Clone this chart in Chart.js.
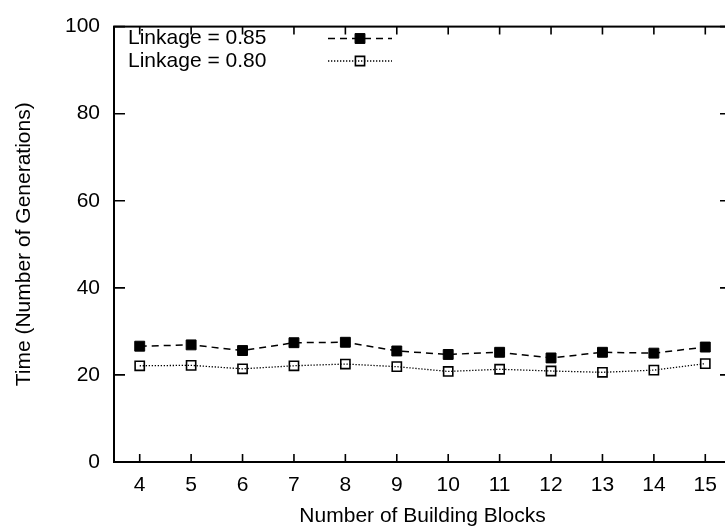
<!DOCTYPE html>
<html lang="en">
<head>
    <meta charset="UTF-8">
    <title>Time vs number of building blocks</title>
    <script src="https://cdn.jsdelivr.net/npm/chart.js"></script>
    <style>
        html, body {
            margin: 0;
            padding: 0;
            background: #fff;
            overflow: hidden;
        }
        .chart-box {
            width: 740px;
            height: 531px;
        }
    </style>
</head>
<body>
    <div class="chart-box">
        <canvas id="genChart" width="740" height="531"></canvas>
    </div>

    <script>
        // Number of building blocks
        const blocks = ['4', '5', '6', '7', '8', '9', '10', '11', '12', '13', '14', '15'];
        // Generations needed, linkage 0.85
        const link085 = [26.6, 26.9, 25.6, 27.4, 27.5, 25.5, 24.7, 25.2, 23.9, 25.2, 25.0, 26.4];
        // Generations needed, linkage 0.80
        const link080 = [22.1, 22.2, 21.4, 22.1, 22.5, 21.9, 20.8, 21.3, 20.9, 20.6, 21.1, 22.6];
        const yTicks = [0, 20, 40, 60, 80, 100];

        const FONT = 'Liberation Sans, Arial, Helvetica, sans-serif';
        const FSIZE = 21;

        // frame with inward ticks on all four sides, plus the key in the top left corner
        const gnuFrame = {
            id: 'gnuFrame',
            afterDatasetsDraw(chart) {
                const ctx = chart.ctx;
                const a = chart.chartArea;
                const xs = chart.scales.x, ys = chart.scales.y;
                ctx.save();
                ctx.strokeStyle = '#000';
                ctx.lineWidth = 1.6;
                ctx.setLineDash([]);
                ctx.beginPath();
                blocks.forEach((b, i) => {
                    const px = xs.getPixelForValue(i);
                    ctx.moveTo(px, a.bottom); ctx.lineTo(px, a.bottom - 8);
                    ctx.moveTo(px, a.top); ctx.lineTo(px, a.top + 8);
                });
                yTicks.forEach(v => {
                    const py = ys.getPixelForValue(v);
                    ctx.moveTo(a.left, py); ctx.lineTo(a.left + 11, py);
                    ctx.moveTo(a.right, py); ctx.lineTo(a.right - 11, py);
                });
                ctx.stroke();
                ctx.lineWidth = 2;
                ctx.strokeRect(a.left, a.top, a.right - a.left, a.bottom - a.top);

                // key
                ctx.font = FSIZE + 'px ' + FONT;
                ctx.textBaseline = 'middle';
                ctx.textAlign = 'left';
                const rows = [38.5, 61];
                chart.data.datasets.forEach((ds, i) => {
                    const y = rows[i];
                    ctx.fillStyle = '#000';
                    ctx.fillText(ds.label, 128, y);
                    ctx.strokeStyle = '#000';
                    ctx.lineWidth = ds.borderWidth;
                    ctx.setLineDash(ds.borderDash);
                    ctx.beginPath();
                    ctx.moveTo(328, y); ctx.lineTo(392, y);
                    ctx.stroke();
                    ctx.setLineDash([]);
                    ctx.fillStyle = ds.pointBackgroundColor;
                    ctx.lineWidth = ds.pointBorderWidth;
                    ctx.beginPath();
                    const s = ds.pointRadius * Math.SQRT1_2;
                    ctx.rect(360 - s, y - s, 2 * s, 2 * s);
                    ctx.fill();
                    ctx.stroke();
                });
                ctx.restore();
            }
        };

        const chart = new Chart(document.getElementById('genChart'), {
            type: 'line',
            data: {
                labels: blocks,
                datasets: [
                    {
                        label: 'Linkage = 0.85',
                        data: link085,
                        borderColor: '#000',
                        borderWidth: 1.5,
                        borderDash: [7, 5],
                        pointStyle: 'rect',
                        pointRadius: 7,
                        pointBorderWidth: 1,
                        pointBackgroundColor: '#000',
                        pointBorderColor: '#000',
                        tension: 0
                    },
                    {
                        label: 'Linkage = 0.80',
                        data: link080,
                        borderColor: '#000',
                        borderWidth: 1.3,
                        borderDash: [1.3, 1.7],
                        pointStyle: 'rect',
                        pointRadius: 6.5,
                        pointBorderWidth: 1.6,
                        pointBackgroundColor: 'rgba(0,0,0,0)',
                        pointBorderColor: '#000',
                        tension: 0
                    }
                ]
            },
            options: {
                responsive: false,
                animation: false,
                layout: { padding: { top: 18, right: 9, left: 0, bottom: 0 } },
                plugins: {
                    legend: { display: false },
                    tooltip: { enabled: false }
                },
                scales: {
                    x: {
                        type: 'category',
                        offset: true,
                        grid: { display: false, drawTicks: false },
                        border: { display: false },
                        ticks: {
                            color: '#000',
                            padding: 11,
                            maxRotation: 0,
                            font: { family: FONT, size: FSIZE }
                        },
                        title: {
                            display: true,
                            text: 'Number of Building Blocks',
                            color: '#000',
                            padding: { bottom: 2, top: 0 },
                            font: { family: FONT, size: FSIZE }
                        },
                        afterFit: s => { s.height = 69; }
                    },
                    y: {
                        min: 0,
                        max: 100,
                        grid: { display: false, drawTicks: false },
                        border: { display: false },
                        afterBuildTicks: s => { s.ticks = yTicks.map(v => ({ value: v })); },
                        ticks: {
                            color: '#000',
                            padding: 14,
                            font: { family: FONT, size: FSIZE }
                        },
                        title: {
                            display: true,
                            text: 'Time (Number of Generations)',
                            color: '#000',
                            padding: { top: 12, bottom: 0 },
                            font: { family: FONT, size: FSIZE }
                        },
                        afterFit: s => { s.width = 114; }
                    }
                }
            },
            plugins: [gnuFrame]
        });
    </script>
</body>
</html>
